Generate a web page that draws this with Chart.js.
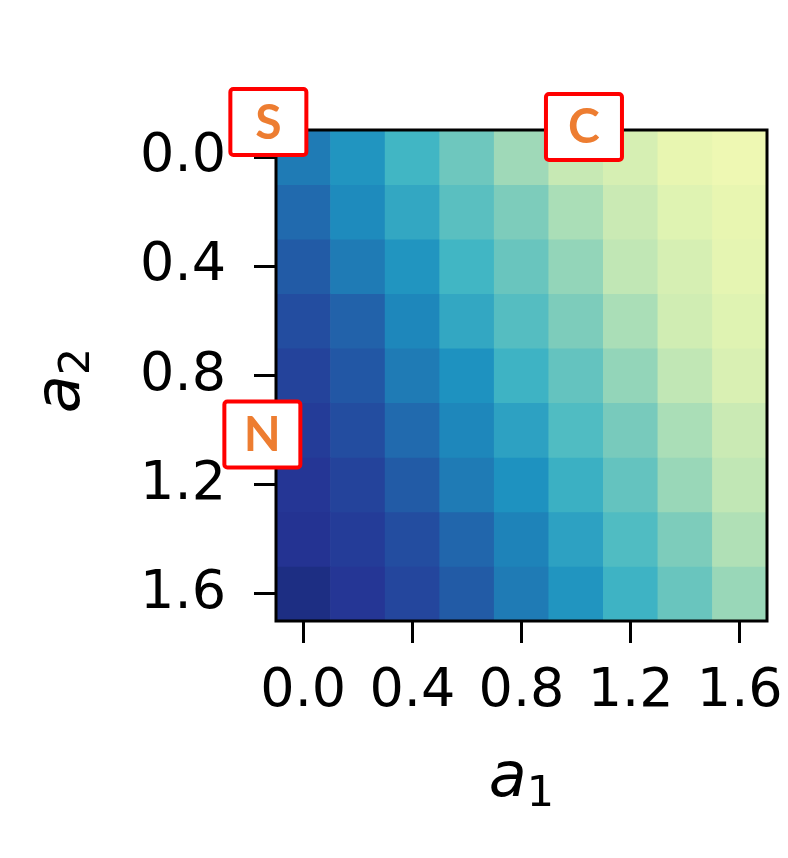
<!DOCTYPE html>
<html lang="en">
<head>
    <meta charset="UTF-8">
    <title>a1 / a2 heatmap</title>
    <script src="https://cdn.jsdelivr.net/npm/chart.js"></script>
    <style>
        body { margin: 0; background: #fff; }
    </style>
</head>
<body>
<canvas id="heatmap" width="788" height="858"></canvas>

<script>
    // grid centres
    const a1Values = [0.0, 0.2, 0.4, 0.6, 0.8, 1.0, 1.2, 1.4, 1.6];
    const a2Values = [0.0, 0.2, 0.4, 0.6, 0.8, 1.0, 1.2, 1.4, 1.6];
    const tickValues = [0.0, 0.4, 0.8, 1.2, 1.6];

    // one row per a2 value, one column per a1 value (0..1)
    const row00 = [0.68, 0.61, 0.50, 0.41, 0.32, 0.25, 0.20, 0.14, 0.12];
    const row02 = [0.72, 0.64, 0.55, 0.45, 0.38, 0.30, 0.24, 0.17, 0.14];
    const row04 = [0.76, 0.68, 0.61, 0.50, 0.42, 0.34, 0.26, 0.20, 0.15];
    const row06 = [0.80, 0.74, 0.65, 0.55, 0.46, 0.38, 0.30, 0.22, 0.17];
    const row08 = [0.83, 0.77, 0.68, 0.62, 0.51, 0.43, 0.34, 0.26, 0.19];
    const row10 = [0.85, 0.80, 0.72, 0.65, 0.57, 0.47, 0.39, 0.30, 0.24];
    const row12 = [0.87, 0.83, 0.76, 0.68, 0.62, 0.52, 0.43, 0.33, 0.26];
    const row14 = [0.88, 0.85, 0.80, 0.73, 0.66, 0.57, 0.47, 0.38, 0.29];
    const row16 = [0.91, 0.87, 0.82, 0.76, 0.68, 0.61, 0.51, 0.42, 0.33];
    const cellValues = [row00, row02, row04, row06, row08, row10, row12, row14, row16];

    // region labels, placed in data units
    const regionLabels = ['S', 'C', 'N'];
    const regionA1 = [-0.128, 1.029, -0.150];
    const regionA2 = [-0.129, -0.111, 1.016];

    // YlGnBu colour map
    const ylGnBu = [
        [255, 255, 217], [237, 248, 177], [199, 233, 180], [127, 205, 187], [65, 182, 196],
        [29, 145, 192], [34, 94, 168], [37, 52, 148], [8, 29, 88]
    ];
    function colorFor(v) {
        const t = Math.min(Math.max(v, 0), 1) * (ylGnBu.length - 1);
        const i = Math.min(Math.floor(t), ylGnBu.length - 2);
        const f = t - i;
        const c = ylGnBu[i].map((ch, k) => Math.round(ch + (ylGnBu[i + 1][k] - ch) * f));
        return 'rgb(' + c.join(',') + ')';
    }

    const half = (a1Values[1] - a1Values[0]) / 2;
    const lo = a1Values[0] - half;
    const hi = a1Values[a1Values.length - 1] + half;

    const datasets = a2Values.map((a2, r) => ({
        data: a1Values.map(a1 => ({ x: a1, y: [a2 - half, a2 + half] })),
        backgroundColor: cellValues[r].map(colorFor),
        borderWidth: 0
    }));

    const tickFont = { family: 'DejaVu Sans', size: 54 };

    function axisCommon(pad, extra) {
        return Object.assign({
            type: 'linear',
            min: lo,
            max: hi,
            offset: false,
            afterBuildTicks: s => { s.ticks = tickValues.map(v => ({ value: v })); },
            ticks: {
                callback: v => v.toFixed(1),
                font: tickFont,
                color: '#000',
                padding: pad,
                autoSkip: false,
                maxRotation: 0
            },
            grid: {
                offset: false,
                drawOnChartArea: false,
                drawTicks: true,
                tickLength: 22,
                color: '#000',
                lineWidth: 3
            },
            border: { display: false }
        }, extra);
    }

    // frame round the plot
    const framePlugin = {
        id: 'frame',
        afterDatasetsDraw(chart) {
            const a = chart.chartArea;
            const ctx = chart.ctx;
            ctx.save();
            ctx.strokeStyle = '#000';
            ctx.lineWidth = 3;
            ctx.strokeRect(a.left, a.top, a.right - a.left, a.bottom - a.top);
            ctx.restore();
        }
    };

    // axis titles with subscript, and the boxed region labels
    const overlayPlugin = {
        id: 'overlay',
        afterDraw(chart) {
            const ctx = chart.ctx;
            const a = chart.chartArea;
            const xs = chart.scales.x, ys = chart.scales.y;
            ctx.save();
            ctx.fillStyle = '#000';
            ctx.textBaseline = 'alphabetic';
            ctx.textAlign = 'left';

            const mainFont = 'italic 62px "DejaVu Sans"';
            const subFont = '43px "DejaVu Sans"';
            function titleWidth(sub) {
                ctx.font = mainFont;
                const w = ctx.measureText('a').width;
                ctx.font = subFont;
                return w + ctx.measureText(sub).width;
            }
            function drawTitle(sub) {
                ctx.font = mainFont;
                ctx.fillText('a', 0, 0);
                const w = ctx.measureText('a').width;
                ctx.font = subFont;
                ctx.fillText(sub, w, 10);
            }

            // x title
            ctx.save();
            ctx.translate((a.left + a.right) / 2 - titleWidth('1') / 2, 796);
            drawTitle('1');
            ctx.restore();

            // y title
            ctx.save();
            ctx.translate(79, (a.top + a.bottom) / 2 + 5 + titleWidth('2') / 2);
            ctx.rotate(-Math.PI / 2);
            drawTitle('2');
            ctx.restore();

            // boxed labels
            const bw = 76, bh = 66;
            regionLabels.forEach((txt, i) => {
                const cx = xs.getPixelForValue(regionA1[i]);
                const cy = ys.getPixelForValue(regionA2[i]);
                ctx.beginPath();
                ctx.roundRect(cx - bw / 2, cy - bh / 2, bw, bh, 3);
                ctx.fillStyle = '#fff';
                ctx.fill();
                ctx.lineWidth = 4;
                ctx.strokeStyle = '#ff0000';
                ctx.stroke();
                ctx.fillStyle = '#ed7d31';
                ctx.font = 'bold 48px Lato';
                ctx.textAlign = 'center';
                ctx.textBaseline = 'middle';
                ctx.fillText(txt, cx, cy + 1);
            });
            ctx.restore();
        }
    };

    new Chart(document.getElementById('heatmap').getContext('2d'), {
        type: 'bar',
        data: { datasets: datasets },
        options: {
            responsive: false,
            animation: false,
            layout: { padding: { top: 130, right: 21, left: 0, bottom: 0 } },
            datasets: {
                bar: {
                    grouped: false,
                    barPercentage: 1,
                    categoryPercentage: 1
                }
            },
            plugins: {
                legend: { display: false },
                tooltip: { enabled: false }
            },
            scales: {
                x: axisCommon(17, {
                    afterFit: s => {
                        s.height = 237;
                        s.paddingLeft = 0;
                        s.paddingRight = 0;
                    }
                }),
                y: axisCommon(28, {
                    reverse: true,
                    afterFit: s => {
                        s.width = 276;
                        s.paddingTop = 0;
                        s.paddingBottom = 0;
                    }
                })
            }
        },
        plugins: [framePlugin, overlayPlugin]
    });
</script>
</body>
</html>
